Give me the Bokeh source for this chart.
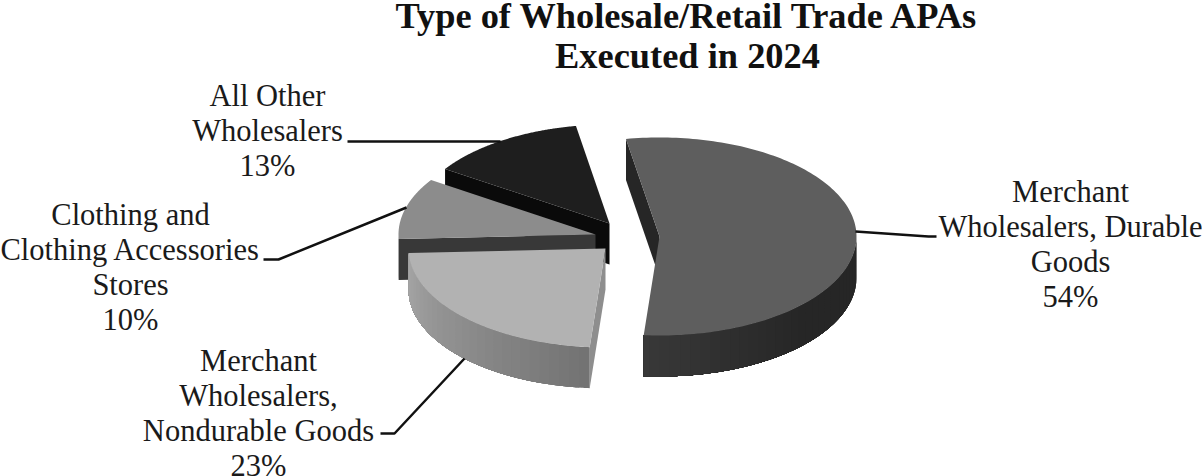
import numpy as np
from bokeh.plotting import figure
from bokeh.models import Range1d
from bokeh.core.properties import value
from bokeh.embed import file_html
from bokeh.resources import INLINE

# ---- data ----
categories = ["Merchant Wholesalers, Durable Goods", "Merchant Wholesalers, Nondurable Goods",
              "Clothing and Clothing Accessories Stores", "All Other Wholesalers"]
shares = [54, 23, 10, 13]
title_lines = ["Type of Wholesale/Retail Trade APAs", "Executed in 2024"]
label_lines = [["Merchant", "Wholesalers, Durable", "Goods"],
               ["Merchant", "Wholesalers,", "Nondurable Goods"],
               ["Clothing and", "Clothing Accessories", "Stores"],
               ["All Other", "Wholesalers"]]

# ---- layout / style ----
START = -9.8
RX, RY, DEPTH = 197.0, 99.0, 41.0
apexes = [(659, 236), (605, 248), (595, 234), (609, 223)]
face_colors = ["#5e5e5e", "#b2b2b2", "#8c8c8c", "#1e1e1e"]
cut_colors = ["#262626", "#8e8e8e", "#383838", "#0a0a0a"]
wall_ramps = [(["#262626", "#262626", "#383838"], [90, 135, 184]),
              (["#727272", "#a8a8a8"], [184, 270]),
              (["#3a3a3a", "#3a3a3a"], [266, 303]),
              (["#0a0a0a", "#0a0a0a"], [303, 350])]
label_anchor = [(1070, 191), (258, 360), (130, 214), (267, 95)]
LINE_H = 35.3
TITLE_Y = 15
TITLE_H = 40.5
leaders = [([855, 928, 936], [231, 236, 236]),
           ([464, 394, 380], [358, 433, 433]),
           ([406, 278, 263], [207, 259, 259]),
           ([500, 347], [141, 141])]

p = figure(width=1202, height=476, output_backend="svg", toolbar_location=None,
           x_range=Range1d(0, 1202), y_range=Range1d(476, 0),
           min_border=0, outline_line_color=None,
           styles={"position": "absolute", "left": "0px", "top": "0px"})
p.axis.visible = False
p.grid.visible = False


def pt(c, a, dz=0.0):
    r = np.radians(a)
    return c[0] + RX * np.sin(r), c[1] - RY * np.cos(r) + dz


def hex2rgb(h):
    return [int(h[i:i + 2], 16) for i in (1, 3, 5)]


def ramp(colors, stops, a):
    rgb = np.array([hex2rgb(c) for c in colors], float)
    vals = [int(round(np.interp(a, stops, rgb[:, i]))) for i in range(3)]
    return "#%02x%02x%02x" % tuple(vals)


edges = START + np.cumsum([0] + shares) * 3.6

# back to front: last slice first, durable goods last
for i in [3, 2, 1, 0]:
    c = apexes[i]
    a0, a1 = edges[i], edges[i + 1]
    x0, y0 = pt(c, a0)
    p.patch([x0, c[0], c[0], x0], [y0, c[1], c[1] + DEPTH, y0 + DEPTH],
            fill_color=cut_colors[i], line_color=None)
    # outer wall, painted as overlapping bands from one end to the other
    lo, hi = max(a0, 90), min(a1, 270)
    if hi > lo:
        steps = np.arange(lo, hi, 3.0).tolist() + [hi]
        for s in steps[:-1]:
            aa = np.linspace(s, hi, max(4, int((hi - s) * 2)))
            xt, yt = pt(c, aa)
            col = ramp(*wall_ramps[i], s + 1.5)
            p.patch(list(xt) + list(xt[::-1]), list(yt) + list((yt + DEPTH)[::-1]),
                    fill_color=col, line_color=None)
    # top face
    aa = np.linspace(a0, a1, 160)
    xf, yf = pt(c, aa)
    p.patch([c[0]] + list(xf), [c[1]] + list(yf), fill_color=face_colors[i], line_color=None)

# leader lines
for lx, ly in leaders:
    p.line(lx, ly, line_color="#111111", line_width=2.5)

SERIF = value("Liberation Serif")
for k, t in enumerate(title_lines):
    p.text([687], [TITLE_Y + TITLE_H * k], text=[t], text_font=SERIF, text_font_size="36.4px",
           text_font_style="bold", text_align="center", text_baseline="middle",
           text_color="#111111")

for (ax, ay), lines, s in zip(label_anchor, label_lines, shares):
    rows = lines + [f"{s}%"]
    p.text([ax] * len(rows), [ay + LINE_H * j for j in range(len(rows))], text=rows,
           text_font=SERIF, text_font_size="30.5px", text_align="center",
           text_baseline="middle", text_color="#1a1a1a")

open("out.html", "w").write(file_html(p, INLINE))
